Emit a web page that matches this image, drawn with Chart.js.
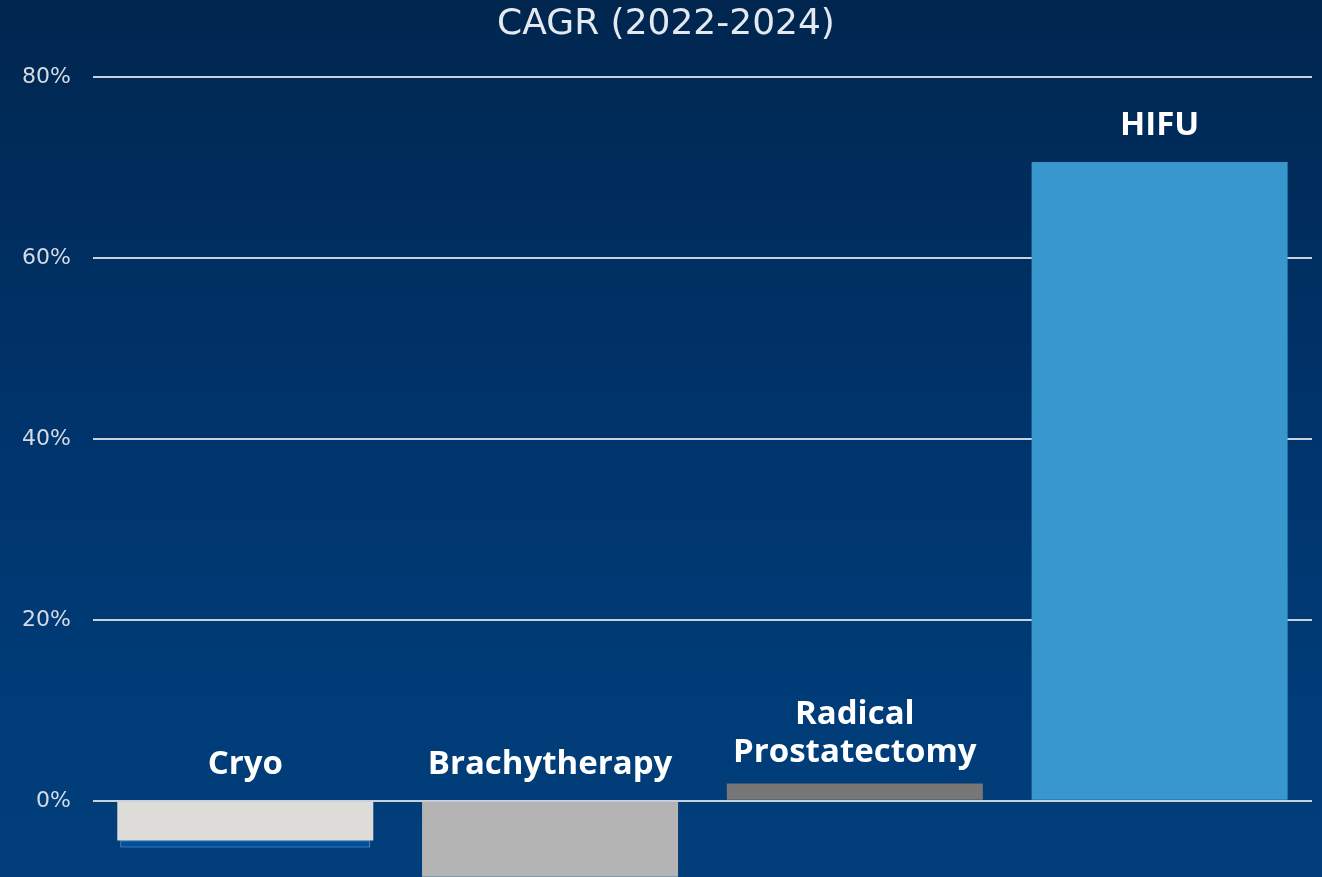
<!DOCTYPE html>
<html>
<head>
<meta charset="utf-8">
<script src="https://cdn.jsdelivr.net/npm/chart.js@4.4.1/dist/chart.umd.min.js"></script>
<style>
  html, body { margin: 0; padding: 0; overflow: hidden; width: 1322px; height: 877px; }
  body { background: linear-gradient(to bottom, #00264f 0%, #00336a 45%, #003c78 80%, #013e7a 100%); }
  #wrap { position: absolute; left: 0; top: 0; width: 1322px; height: 912px; }
</style>
</head>
<body>
<div id="wrap"><canvas id="c"></canvas></div>
<script>
const titleText = 'CAGR (2022-2024)';
const categories = ['Cryo', 'Brachytherapy', ['Radical', 'Prostatectomy'], 'HIFU'];
const cagrValues = [-4.4, -12, 1.9, 70.6];
const cryoShadow = [-0.75, null, null, null];
const tickValues = [0, 20, 40, 60, 80];
const barColors = ['#dddcd8', '#b4b4b4', '#777777', '#3897cc'];

const labelPlugin = {
  id: 'catLabels',
  afterDatasetsDraw(chart) {
    const ctx = chart.ctx;
    const y = chart.scales.y;
    const meta = chart.getDatasetMeta(0);
    ctx.save();
    ctx.fillStyle = '#ffffff';
    ctx.font = 'bold 33px "Open Sans", sans-serif';
    ctx.textAlign = 'center';
    ctx.textBaseline = 'alphabetic';
    categories.forEach((cat, i) => {
      const lines = Array.isArray(cat) ? cat : [cat];
      const top = y.getPixelForValue(Math.max(0, cagrValues[i]));
      const x = meta.data[i].x;
      let base = top - (lines.length > 1 ? 22 : 27);
      for (let k = lines.length - 1; k >= 0; k--) {
        ctx.fillText(lines[k], x, base);
        base -= 38;
      }
    });
    ctx.restore();
  },
  afterDraw(chart) {
    const ctx = chart.ctx;
    ctx.save();
    ctx.fillStyle = '#e4e9f0';
    ctx.font = '36px "DejaVu Sans", sans-serif';
    ctx.textAlign = 'center';
    ctx.textBaseline = 'middle';
    ctx.fillText(titleText, 666, 25);
    ctx.restore();
  }
};

new Chart(document.getElementById('c'), {
  type: 'bar',
  data: {
    labels: categories,
    datasets: [
      { data: cagrValues, backgroundColor: barColors, borderWidth: 0, barPercentage: 0.84, categoryPercentage: 1.0 },
      { data: cryoShadow, backgroundColor: '#0050a0', borderColor: '#7aa6d6', borderWidth: 1, borderSkipped: false, barPercentage: 0.82, categoryPercentage: 1.0 }
    ]
  },
  options: {
    responsive: true,
    maintainAspectRatio: false,
    animation: false,
    layout: { padding: { left: 0, right: 10, top: 77, bottom: 0 } },
    plugins: {
      legend: { display: false },
      tooltip: { enabled: false },
      title: { display: false }
    },
    scales: {
      x: {
        stacked: true,
        display: false,
        grid: { display: false }
      },
      y: {
        stacked: true,
        min: -8.4,
        max: 80,
        afterBuildTicks(scale) {
          scale.ticks = tickValues.map(v => ({ value: v }));
        },
        border: { display: false },
        grid: { color: '#c9d1dd', lineWidth: 2, drawTicks: false },
        ticks: {
          color: '#d4dbe5',
          font: { family: '"DejaVu Sans", sans-serif', size: 22 },
          padding: 22,
          callback: v => v + '%'
        }
      }
    }
  },
  plugins: [labelPlugin]
});
</script>
</body>
</html>
